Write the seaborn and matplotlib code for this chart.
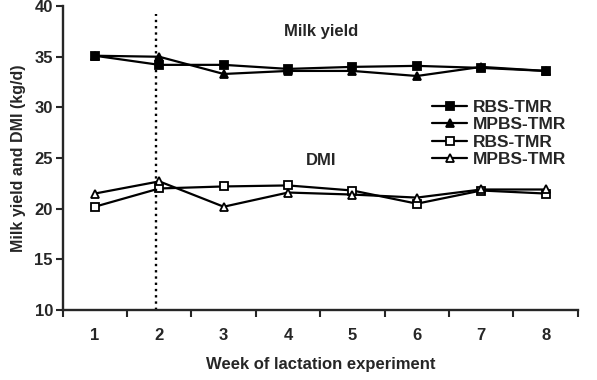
import numpy as np
import pandas as pd
import matplotlib
matplotlib.use("Agg")
import matplotlib.pyplot as plt
import seaborn as sns

weeks = [1, 2, 3, 4, 5, 6, 7, 8]
milk_rbs = [35.1, 34.2, 34.2, 33.8, 34.0, 34.1, 33.9, 33.6]
milk_mpbs = [35.1, 35.0, 33.3, 33.6, 33.6, 33.1, 34.0, 33.6]
dmi_rbs = [20.2, 22.0, 22.2, 22.3, 21.8, 20.5, 21.8, 21.5]
dmi_mpbs = [21.5, 22.7, 20.2, 21.6, 21.4, 21.1, 21.9, 21.9]

series = [
    ("RBS-TMR", milk_rbs, "s", "black"),
    ("MPBS-TMR", milk_mpbs, "^", "black"),
    ("RBS-TMR", dmi_rbs, "s", "white"),
    ("MPBS-TMR", dmi_mpbs, "^", "white"),
]

sns.set_style("ticks")
plt.rcParams["font.family"] = ["Liberation Sans", "DejaVu Sans"]
plt.rcParams["font.weight"] = "bold"

FS = 12

fig = plt.figure(figsize=(5.97, 3.8), dpi=100)
ax = fig.add_axes([0.105, 0.184, 0.863, 0.8])

for label, vals, mk, fc in series:
    df = pd.DataFrame({"week": weeks, "value": vals})
    sns.lineplot(data=df, x="week", y="value", ax=ax, color="black",
                 linewidth=1.6, marker=mk, markersize=5.8,
                 markerfacecolor=fc, markeredgecolor="black",
                 markeredgewidth=1.3, label=label)

# week-2 divider
ax.plot([1.95, 1.95], [10, 39.2], color="black", linestyle=":", linewidth=1.7)

ax.text(4.51, 37.5, "Milk yield", ha="center", va="center",
        fontsize=FS, fontweight="bold")
ax.text(4.51, 24.8, "DMI", ha="center", va="center",
        fontsize=FS, fontweight="bold")

ax.set_xlim(0.5, 8.5)
ax.set_ylim(10, 40)
ax.set_yticks(np.arange(10, 41, 5))
ax.set_xticks(np.arange(0.5, 9, 1))
ax.set_xticklabels([])
ax.set_xticks(weeks, minor=True)
ax.set_xticklabels([str(w) for w in weeks], minor=True)
ax.tick_params(axis="x", which="minor", length=0, pad=13, labelsize=FS)
ax.tick_params(axis="both", which="major", direction="out", length=5,
               width=1.5, labelsize=FS, pad=2)
for s in ["left", "bottom"]:
    ax.spines[s].set_linewidth(1.7)
sns.despine(ax=ax)

ax.set_xlabel("Week of lactation experiment", fontsize=FS,
              fontweight="bold", labelpad=10)
ax.set_ylabel("Milk yield and DMI (kg/d)", fontsize=11.5,
              fontweight="bold", labelpad=6)

ax.legend(loc="upper right", bbox_to_anchor=(0.99, 0.715), frameon=False,
          fontsize=12.5, handlelength=2.0, handletextpad=0.3,
          labelspacing=0.13, borderaxespad=0)

fig.savefig("out.png", dpi=100)
